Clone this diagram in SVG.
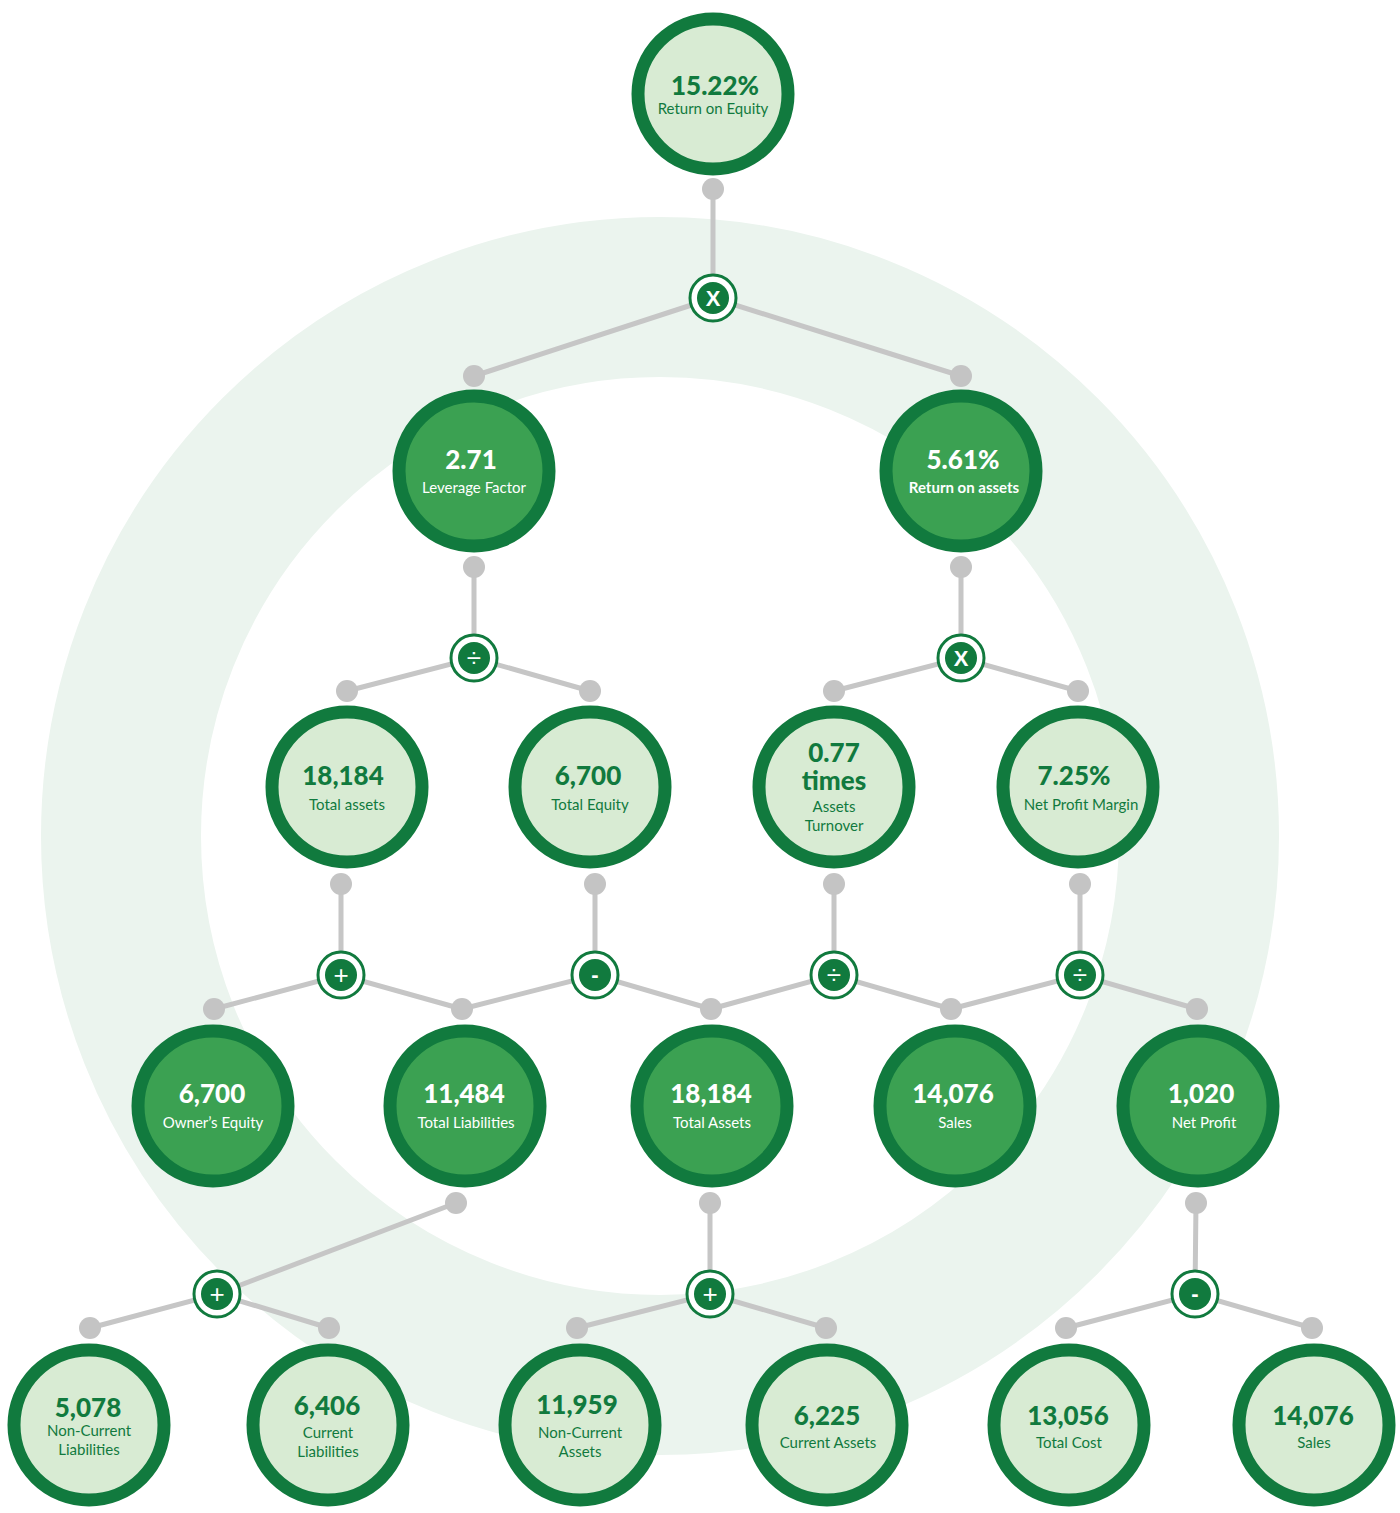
<svg xmlns="http://www.w3.org/2000/svg" width="1400" height="1513" viewBox="0 0 1400 1513">
<style>
.bg{fill:#ffffff}
.ring{fill:none;stroke:#ebf4ee;stroke-width:160}
.ln{stroke:#c6c6c6;stroke-width:5;fill:none;stroke-linecap:round}
.dot{fill:#c4c4c4}
.nl{fill:#d8ebd3;stroke:#117a3e;stroke-width:13}
.nd{fill:#3ba152;stroke:#117a3e;stroke-width:13}
.opo{fill:#ffffff;stroke:#117a3e;stroke-width:3}
.opi{fill:#117a3e}
.num{font-family:Lato,"Liberation Sans",sans-serif;font-weight:900;font-size:26px;text-anchor:middle}
.lab{font-family:Lato,"Liberation Sans",sans-serif;font-size:15px;text-anchor:middle}
.labb{font-family:Lato,"Liberation Sans",sans-serif;font-size:15px;font-weight:700;text-anchor:middle}
.tg{fill:#117a3e}
.tw{fill:#ffffff}
.op{font-family:"Liberation Sans",Arial,sans-serif;font-weight:700;font-size:22px;fill:#ffffff;text-anchor:middle}
.op2{font-family:"Liberation Sans",Arial,sans-serif;font-size:26px;fill:#ffffff;text-anchor:middle}
</style>
<rect class="bg" x="0" y="0" width="1400" height="1513"/>
<circle class="ring" cx="660" cy="836" r="539"/>

<g id="connectors">
<polyline class="ln" points="713,189 713,298"/>
<polyline class="ln" points="474,376 713,298 961,376"/>
<polyline class="ln" points="474,567 474,658"/>
<polyline class="ln" points="347,691 474,658 590,691"/>
<polyline class="ln" points="961,567 961,658"/>
<polyline class="ln" points="834,691 961,658 1078,691"/>
<polyline class="ln" points="341,884 341,975"/>
<polyline class="ln" points="214,1009 341,975 462,1009"/>
<polyline class="ln" points="595,884 595,975"/>
<polyline class="ln" points="462,1009 595,975 711,1009"/>
<polyline class="ln" points="834,884 834,975"/>
<polyline class="ln" points="711,1009 834,975 951,1009"/>
<polyline class="ln" points="1080,884 1080,975"/>
<polyline class="ln" points="951,1009 1080,975 1197,1009"/>
<polyline class="ln" points="456,1203 217,1294"/>
<polyline class="ln" points="90,1328 217,1294 329,1328"/>
<polyline class="ln" points="710,1203 710,1294"/>
<polyline class="ln" points="577,1328 710,1294 826,1328"/>
<polyline class="ln" points="1196,1203 1195,1294"/>
<polyline class="ln" points="1066,1328 1195,1294 1312,1328"/>
<g>
<circle class="dot" cx="713" cy="189" r="11"/>
<circle class="dot" cx="474" cy="376" r="11"/>
<circle class="dot" cx="961" cy="376" r="11"/>
<circle class="dot" cx="474" cy="567" r="11"/>
<circle class="dot" cx="961" cy="567" r="11"/>
<circle class="dot" cx="347" cy="691" r="11"/>
<circle class="dot" cx="590" cy="691" r="11"/>
<circle class="dot" cx="834" cy="691" r="11"/>
<circle class="dot" cx="1078" cy="691" r="11"/>
<circle class="dot" cx="341" cy="884" r="11"/>
<circle class="dot" cx="595" cy="884" r="11"/>
<circle class="dot" cx="834" cy="884" r="11"/>
<circle class="dot" cx="1080" cy="884" r="11"/>
<circle class="dot" cx="214" cy="1009" r="11"/>
<circle class="dot" cx="462" cy="1009" r="11"/>
<circle class="dot" cx="711" cy="1009" r="11"/>
<circle class="dot" cx="951" cy="1009" r="11"/>
<circle class="dot" cx="1197" cy="1009" r="11"/>
<circle class="dot" cx="456" cy="1203" r="11"/>
<circle class="dot" cx="710" cy="1203" r="11"/>
<circle class="dot" cx="1196" cy="1203" r="11"/>
<circle class="dot" cx="90" cy="1328" r="11"/>
<circle class="dot" cx="329" cy="1328" r="11"/>
<circle class="dot" cx="577" cy="1328" r="11"/>
<circle class="dot" cx="826" cy="1328" r="11"/>
<circle class="dot" cx="1066" cy="1328" r="11"/>
<circle class="dot" cx="1312" cy="1328" r="11"/>
</g>
</g>

<g id="op-x1"><circle class="opo" cx="713" cy="298" r="23"/><circle class="opi" cx="713" cy="298" r="16"/><text class="op" x="713" y="306">X</text></g>
<g id="op-div1"><circle class="opo" cx="474" cy="658" r="23"/><circle class="opi" cx="474" cy="658" r="16"/><text class="op2" x="474" y="667">÷</text></g>
<g id="op-x2"><circle class="opo" cx="961" cy="658" r="23"/><circle class="opi" cx="961" cy="658" r="16"/><text class="op" x="961" y="666">X</text></g>
<g id="op-plus1"><circle class="opo" cx="341" cy="975" r="23"/><circle class="opi" cx="341" cy="975" r="16"/><text class="op2" x="341" y="984">+</text></g>
<g id="op-minus1"><circle class="opo" cx="595" cy="975" r="23"/><circle class="opi" cx="595" cy="975" r="16"/><text class="op" x="595" y="982">-</text></g>
<g id="op-div2"><circle class="opo" cx="834" cy="975" r="23"/><circle class="opi" cx="834" cy="975" r="16"/><text class="op2" x="834" y="984">÷</text></g>
<g id="op-div3"><circle class="opo" cx="1080" cy="975" r="23"/><circle class="opi" cx="1080" cy="975" r="16"/><text class="op2" x="1080" y="984">÷</text></g>
<g id="op-plus2"><circle class="opo" cx="217" cy="1294" r="23"/><circle class="opi" cx="217" cy="1294" r="16"/><text class="op2" x="217" y="1303">+</text></g>
<g id="op-plus3"><circle class="opo" cx="710" cy="1294" r="23"/><circle class="opi" cx="710" cy="1294" r="16"/><text class="op2" x="710" y="1303">+</text></g>
<g id="op-minus2"><circle class="opo" cx="1195" cy="1294" r="23"/><circle class="opi" cx="1195" cy="1294" r="16"/><text class="op" x="1195" y="1301">-</text></g>

<g id="n-roe"><circle class="nl" cx="713" cy="94" r="75"/><text class="num tg" x="715" y="95">15.22%</text><text class="lab tg" x="713" y="114">Return on Equity</text></g>
<g id="n-lev"><circle class="nd" cx="474" cy="471" r="75"/><text class="num tw" x="471" y="469">2.71</text><text class="lab tw" x="474" y="493">Leverage Factor</text></g>
<g id="n-roa"><circle class="nd" cx="961" cy="471" r="75"/><text class="num tw" x="963" y="469">5.61%</text><text class="labb tw" x="964" y="493">Return on assets</text></g>
<g id="n-ta1"><circle class="nl" cx="347" cy="787" r="75"/><text class="num tg" x="343" y="785">18,184</text><text class="lab tg" x="347" y="810">Total assets</text></g>
<g id="n-te"><circle class="nl" cx="590" cy="787" r="75"/><text class="num tg" x="588" y="785">6,700</text><text class="lab tg" x="590" y="810">Total Equity</text></g>
<g id="n-at"><circle class="nl" cx="834" cy="787" r="75"/><text class="num tg" x="834" y="762">0.77</text><text class="num tg" x="834" y="790">times</text><text class="lab tg" x="834" y="812">Assets</text><text class="lab tg" x="834" y="831">Turnover</text></g>
<g id="n-npm"><circle class="nl" cx="1078" cy="787" r="75"/><text class="num tg" x="1074" y="785">7.25%</text><text class="lab tg" x="1081" y="810">Net Profit Margin</text></g>
<g id="n-oe"><circle class="nd" cx="213" cy="1106" r="75"/><text class="num tw" x="212" y="1103">6,700</text><text class="lab tw" x="213" y="1128">Owner’s Equity</text></g>
<g id="n-tl"><circle class="nd" cx="465" cy="1106" r="75"/><text class="num tw" x="464" y="1103">11,484</text><text class="lab tw" x="466" y="1128">Total Liabilities</text></g>
<g id="n-ta2"><circle class="nd" cx="712" cy="1106" r="75"/><text class="num tw" x="711" y="1103">18,184</text><text class="lab tw" x="712" y="1128">Total Assets</text></g>
<g id="n-s1"><circle class="nd" cx="955" cy="1106" r="75"/><text class="num tw" x="953" y="1103">14,076</text><text class="lab tw" x="955" y="1128">Sales</text></g>
<g id="n-np"><circle class="nd" cx="1198" cy="1106" r="75"/><text class="num tw" x="1201" y="1103">1,020</text><text class="lab tw" x="1204" y="1128">Net Profit</text></g>
<g id="n-ncl"><circle class="nl" cx="89" cy="1425" r="75"/><text class="num tg" x="88" y="1417">5,078</text><text class="lab tg" x="89" y="1436">Non-Current</text><text class="lab tg" x="89" y="1455">Liabilities</text></g>
<g id="n-cl"><circle class="nl" cx="328" cy="1425" r="75"/><text class="num tg" x="327" y="1415">6,406</text><text class="lab tg" x="328" y="1438">Current</text><text class="lab tg" x="328" y="1457">Liabilities</text></g>
<g id="n-nca"><circle class="nl" cx="580" cy="1425" r="75"/><text class="num tg" x="577" y="1414">11,959</text><text class="lab tg" x="580" y="1438">Non-Current</text><text class="lab tg" x="580" y="1457">Assets</text></g>
<g id="n-ca"><circle class="nl" cx="827" cy="1425" r="75"/><text class="num tg" x="827" y="1425">6,225</text><text class="lab tg" x="828" y="1448">Current Assets</text></g>
<g id="n-tc"><circle class="nl" cx="1069" cy="1425" r="75"/><text class="num tg" x="1068" y="1425">13,056</text><text class="lab tg" x="1069" y="1448">Total Cost</text></g>
<g id="n-s2"><circle class="nl" cx="1314" cy="1425" r="75"/><text class="num tg" x="1313" y="1425">14,076</text><text class="lab tg" x="1314" y="1448">Sales</text></g>
</svg>
